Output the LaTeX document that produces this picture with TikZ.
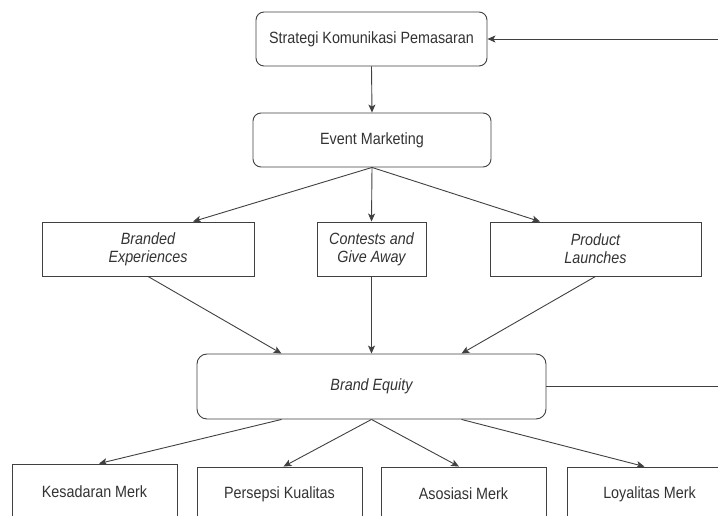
\documentclass[tikz,border=0pt]{standalone}
\usepackage{fontspec}
\setmainfont{Liberation Sans}[FakeStretch=0.88]
\usetikzlibrary{arrows.meta}
\definecolor{linegray}{HTML}{404040}
\definecolor{textgray}{HTML}{333333}
\begin{document}
\begin{tikzpicture}[x=1pt,y=-1pt,
  font=\fontsize{16.3}{18}\selectfont,
  box/.style={draw=linegray, line width=0.9pt, fill=white, text=textgray,
    inner sep=0pt, align=center},
  rbox/.style={box, rounded corners=8pt},
  arr/.style={draw=linegray, line width=0.9pt,
    -{Stealth[length=8pt,width=7pt,inset=2pt]}},
  plain/.style={draw=linegray, line width=0.9pt}]
  \useasboundingbox (0,0) rectangle (718,516);

  % top chain
  \node[rbox, minimum width=231pt, minimum height=54pt] (strat) at (371.5,39)
    {Strategi Komunikasi Pemasaran};
  \node[rbox, minimum width=238pt, minimum height=54pt] (event) at (372,140)
    {Event Marketing};

  % event types
  \node[box, minimum width=212pt, minimum height=54pt] (branded) at (148,249)
    {\itshape Branded\\\itshape Experiences};
  \node[box, minimum width=109pt, minimum height=54pt] (contests) at (371.5,249)
    {\itshape Contests and\\\itshape Give Away};
  \node[box, minimum width=211pt, minimum height=54pt] (product) at (595.5,249)
    {\itshape Product\\\itshape Launches};

  % brand equity
  \node[box, rounded corners=10pt, minimum width=349pt, minimum height=65pt] (be)
    at (371.5,386.5) {\itshape Brand Equity};

  % dimensions
  \node[box, minimum width=165pt, minimum height=56pt] (kes) at (94.5,492)
    {Kesadaran Merk};
  \node[box, minimum width=165pt, minimum height=54pt] (per) at (279.5,494)
    {Persepsi Kualitas};
  \node[box, minimum width=165pt, minimum height=54pt] (aso) at (463.5,494)
    {Asosiasi Merk};
  \node[box, minimum width=165pt, minimum height=54pt] (loy) at (649.5,494)
    {Loyalitas Merk};

  % feedback ends at the right margin
  \coordinate (fbtop) at (718,39);
  \coordinate (fbbot) at (718,386.5);

  % connectors
  \draw[arr] (fbtop) -- (strat.east);
  \draw[plain] (be.east) -- (fbbot);
  \draw[arr] (strat.south) -- (event.north);

  \draw[arr] (event.south) -- ([xshift=45pt]branded.north);
  \draw[arr] (event.south) -- (contests.north);
  \draw[arr] (event.south) -- ([xshift=-55.5pt]product.north);

  \draw[arr] (branded.south) -- ([xshift=-90pt]be.north);
  \draw[arr] (contests.south) -- (be.north);
  \draw[arr] (product.south) -- ([xshift=90pt]be.north);

  \draw[arr] ([xshift=-90pt]be.south) -- ([xshift=4.5pt]kes.north);
  \draw[arr] (be.south) -- ([xshift=4pt]per.north);
  \draw[arr] (be.south) -- ([xshift=-4.5pt]aso.north);
  \draw[arr] ([xshift=90pt]be.south) -- ([xshift=-5pt]loy.north);
\end{tikzpicture}
\end{document}
